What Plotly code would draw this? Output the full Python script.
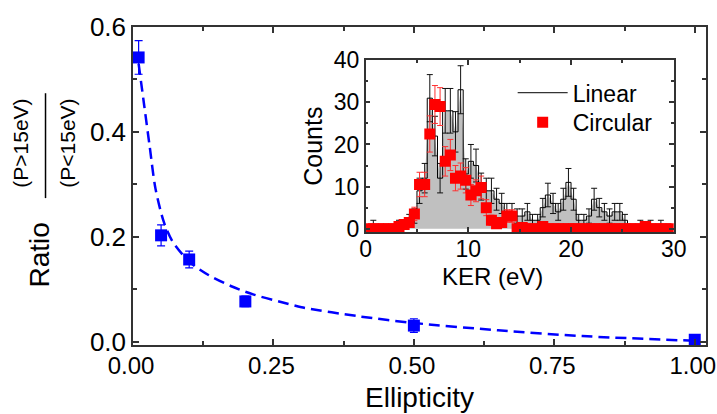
import plotly.graph_objects as go

# ---------------- main panel data ----------------
ellipticity = [0.01, 0.05, 0.10, 0.20, 0.50, 1.00]
ratio = [0.542, 0.203, 0.157, 0.077, 0.031, 0.004]
ratio_err = [0.032, 0.020, 0.016, 0.010, 0.013, 0.003]

fit_x = [0.01, 0.02, 0.03, 0.04, 0.055, 0.07, 0.10, 0.135, 0.175, 0.215,
         0.26, 0.30, 0.40, 0.50, 0.65, 0.80, 1.00]
fit_y = [0.530, 0.450, 0.370, 0.292, 0.228, 0.192, 0.153, 0.127, 0.106, 0.090,
         0.077, 0.066, 0.049, 0.036, 0.022, 0.011, 0.002]

x_ticks = [0.00, 0.25, 0.50, 0.75, 1.00]
x_ticklabels = ["0.00", "0.25", "0.50", "0.75", "1.00"]
y_ticks = [0.0, 0.2, 0.4, 0.6]
y_ticklabels = ["0.0", "0.2", "0.4", "0.6"]

# ---------------- inset data ----------------
ker = [0.25, 0.75, 1.25, 1.75, 2.25, 2.75, 3.25, 3.75, 4.25, 4.75,
       5.25, 5.75, 6.25, 6.75, 7.25, 7.75, 8.25, 8.75, 9.25, 9.75,
       10.25, 10.75, 11.25, 11.75, 12.25, 12.75, 13.25, 13.75, 14.25, 14.75,
       15.25, 15.75, 16.25, 16.75, 17.25, 17.75, 18.25, 18.75, 19.25, 19.75,
       20.25, 20.75, 21.25, 21.75, 22.25, 22.75, 23.25, 23.75, 24.25, 24.75,
       25.25, 25.75, 26.25, 26.75, 27.25, 27.75, 28.25, 28.75, 29.25, 29.75]

linear_counts = [0, 1, 0, 0, 0, 0, 1, 1, 2, 3,
                 9, 12, 31, 22, 12, 28, 28, 23, 33, 13,
                 16, 15, 10, 9, 9, 7, 6, 4, 4, 3,
                 3, 4, 2, 2, 5, 8, 6, 4, 7, 11,
                 7, 2, 2, 3, 7, 5, 4, 3, 4, 4,
                 2, 0, 0, 1, 0, 1, 0, 1, 0, 0]
linear_err = [0, 1, 0, 0, 0, 0, 1, 1, 1.4, 1.7,
              3.0, 3.5, 5.6, 4.7, 3.5, 5.3, 5.3, 4.8, 5.7, 3.6,
              4.0, 3.9, 3.2, 3.0, 3.0, 2.6, 2.4, 2.0, 2.0, 1.7,
              1.7, 2.0, 1.4, 1.4, 2.2, 2.8, 2.4, 2.0, 2.6, 3.3,
              2.6, 1.4, 1.4, 1.7, 2.6, 2.2, 2.0, 1.7, 2.0, 2.0,
              1.4, 0, 0, 1, 0, 1, 0, 1, 0, 0]

circular_counts = [0, 0, 0, 0, 0, 0, 0.5, 1, 1.5, 3.5,
                   10.5, 10.5, 22.5, 29.5, 29, 16, 17.5, 12, 12.5, 11.5,
                   8, 9, 9.8, 5, 2, 1.2, 1.5, 3, 3, 0,
                   0.3, 0, 0, 0, 0.5, 0, 0, 0, 0, 0,
                   0, 0, 0, 0, 0, 0, 0, 0, 0, 0,
                   0, 0, 0, 0, 0.5, 0, 0, 0, 0, 0]
circular_err = [0, 0, 0, 0, 0, 0, 0.6, 0.8, 1.0, 1.6,
                2.9, 2.9, 4.3, 4.5, 4.5, 3.5, 3.7, 3.0, 3.1, 3.0,
                2.5, 2.6, 2.7, 1.9, 1.2, 0.9, 1.0, 1.5, 1.5, 0,
                0.5, 0, 0, 0, 0.6, 0, 0, 0, 0, 0,
                0, 0, 0, 0, 0, 0, 0, 0, 0, 0,
                0, 0, 0, 0, 0.6, 0, 0, 0, 0, 0]

FONT = "Arial, Liberation Sans, sans-serif"
AX = "#333333"
BLUE = "#0000ff"
RED = "#ff0000"

fig = go.Figure()

# main panel
fig.add_trace(go.Scatter(x=fit_x, y=fit_y, mode="lines",
                         line=dict(color=BLUE, width=2.5, dash="11px,6px", shape="spline", smoothing=0.8),
                         showlegend=False, hoverinfo="skip"))
fig.add_trace(go.Scatter(x=ellipticity, y=ratio, mode="markers",
                         marker=dict(symbol="square", size=12, color=BLUE),
                         error_y=dict(type="data", array=ratio_err, color=BLUE, thickness=1.2, width=4),
                         showlegend=False))

# inset: gray area
fig.add_trace(go.Scatter(x=ker, y=linear_counts, xaxis="x2", yaxis="y2", mode="lines",
                         line=dict(width=0, color="#c0c0c0"), fill="tozeroy", fillcolor="#c0c0c0",
                         showlegend=False, hoverinfo="skip"))
# inset: error bars of linear
fig.add_trace(go.Scatter(x=ker, y=linear_counts, xaxis="x2", yaxis="y2", mode="markers",
                         marker=dict(size=1, color="rgba(0,0,0,0)"),
                         error_y=dict(type="data", array=linear_err, color="#111111", thickness=1, width=3),
                         showlegend=False, hoverinfo="skip"))
# inset: step outline (legend "Linear")
fig.add_trace(go.Scatter(x=ker, y=linear_counts, xaxis="x2", yaxis="y2", mode="lines", name="Linear",
                         line=dict(color="#000000", width=1, shape="hvh"), legend="legend"))
# inset: circular squares
fig.add_trace(go.Scatter(x=ker, y=circular_counts, xaxis="x2", yaxis="y2", mode="markers", name="Circular",
                         marker=dict(symbol="square", size=11, color=RED),
                         error_y=dict(type="data", array=circular_err, color="#ff3030", thickness=1, width=3),
                         legend="legend2"))

# geometry in reference pixels, scaled to the capture
KX, KY = 731 / 717, 420 / 414
W, H = 731, 420
L, R, T, B = round(130 * KX), W - round(703 * KX), round(22 * KY), H - round(340 * KY)
pw, ph = W - L - R, H - T - B


def px(xr):
    return (xr * KX - L) / pw


def py(yr):
    return (H - B - yr * KY) / ph


axis_common = dict(showline=True, linecolor=AX, linewidth=1.5, mirror="allticks",
                   ticks="inside", tickcolor=AX, tickwidth=1.5, showgrid=False, zeroline=False)

legend_common = dict(xanchor="left", yanchor="top", bgcolor="rgba(0,0,0,0)",
                     font=dict(size=23), itemwidth=50)

fig.update_layout(
    width=W, height=H,
    margin=dict(l=L, r=R, t=T, b=B),
    paper_bgcolor="white", plot_bgcolor="white",
    font=dict(family=FONT, color="black"),
    xaxis=dict(range=[0, 1.02], tickvals=x_ticks, ticktext=x_ticklabels, ticklen=6,
               ticklabelstandoff=-2, ticklabelshift=-2,
               minor=dict(ticks="inside", dtick=0.125, tick0=0, ticklen=4, tickcolor=AX, tickwidth=1.5),
               tickfont=dict(size=24), title=dict(text="Ellipticity", font=dict(size=28), standoff=10),
               **axis_common),
    yaxis=dict(range=[-0.006, 0.6], tickvals=y_ticks, ticktext=y_ticklabels, ticklen=6,
               minor=dict(ticks="inside", dtick=0.1, tick0=0, ticklen=4, tickcolor=AX, tickwidth=1.5),
               tickfont=dict(size=26), **axis_common),
    xaxis2=dict(domain=[px(363), px(671)], anchor="y2", range=[0, 30], dtick=10, tick0=0, ticklen=5,
                ticklabelstandoff=-4,
                minor=dict(ticks="inside", dtick=5, tick0=0, ticklen=3, tickcolor=AX, tickwidth=1.5),
                tickfont=dict(size=23), **axis_common),
    yaxis2=dict(domain=[py(227), py(55)], anchor="x2", range=[-0.8, 40], dtick=10, tick0=0, ticklen=5,
                minor=dict(ticks="inside", dtick=5, tick0=0, ticklen=3, tickcolor=AX, tickwidth=1.5),
                tickfont=dict(size=23), title=dict(text="Counts", font=dict(size=25), standoff=4),
                **axis_common),
    legend=dict(x=px(510), y=py(66), **legend_common),
    legend2=dict(x=px(510), y=py(95.5), **legend_common),
    showlegend=True,
    annotations=[
        dict(text="Ratio", xref="paper", yref="paper", x=px(37), y=py(250), textangle=-90,
             showarrow=False, font=dict(size=28), xanchor="center", yanchor="middle"),
        dict(text="(P>15eV)", xref="paper", yref="paper", x=px(18), y=py(138), textangle=-90,
             showarrow=False, font=dict(size=21), xanchor="center", yanchor="middle"),
        dict(text="(P<15eV)", xref="paper", yref="paper", x=px(65), y=py(138), textangle=-90,
             showarrow=False, font=dict(size=21), xanchor="center", yanchor="middle"),
        dict(text="KER (eV)", xref="paper", yref="paper", x=px(490), y=py(271),
             showarrow=False, font=dict(size=24), xanchor="center", yanchor="middle"),
    ],
    shapes=[dict(type="line", xref="paper", yref="paper", x0=px(43), x1=px(43), y0=py(88), y1=py(193),
                 line=dict(color="black", width=1.5))],
)

fig.write_html("out.html", config={"displayModeBar": False},
               post_script="document.body.style.margin='0px';document.body.style.overflow='hidden';")
